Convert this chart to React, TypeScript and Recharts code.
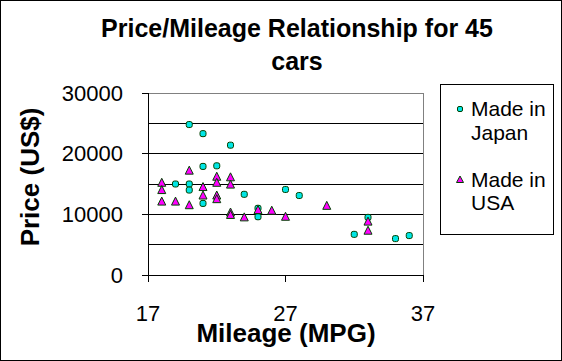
import { ScatterChart, Scatter, XAxis, YAxis, CartesianGrid, ReferenceLine, Label } from 'recharts';

const japanMpg = [20, 21, 23, 21, 22, 19, 20, 20, 21, 24, 25, 25, 27, 28, 32, 33, 35, 36];
const japanPrice = [24800, 23300, 21400, 17900, 18000, 15000, 15000, 14000, 11800, 13300, 11000, 9600, 14100, 13100, 6700, 9500, 6000, 6500];

const usaMpg = [18, 18, 18, 19, 20, 20, 21, 21, 22, 22, 22, 22, 23, 23, 23, 23, 24, 25, 26, 27, 30, 33, 33];
const usaPrice = [15200, 14000, 12100, 12100, 17200, 11500, 14500, 13100, 16200, 15200, 13100, 12500, 16100, 14900, 10300, 9900, 9500, 10700, 10600, 9600, 11400, 8800, 7300];

const xTicks = [17, 27, 37];
const yTicks = [0, 5000, 10000, 15000, 20000, 25000, 30000];

const japan = japanMpg.map((mpg, i) => ({ mpg, price: japanPrice[i] }));
const usa = usaMpg.map((mpg, i) => ({ mpg, price: usaPrice[i] }));

const FONT = '"Liberation Sans", Arial, sans-serif';
const CYAN = '#00e6e6';
const MAGENTA = '#ff00ff';
const EDGE = '#004000';
const crisp = { shapeRendering: 'crispEdges' as const };

const Dot = (props: any) => {
  const { cx, cy } = props;
  return <rect x={cx - 3} y={cy - 3} width={6} height={6} rx={2} fill={CYAN} stroke={EDGE} strokeWidth={1} />;
};

const Tri = (props: any) => {
  const { cx, cy } = props;
  return (
    <polygon
      points={`${cx},${cy - 4.5} ${cx + 4},${cy + 3.5} ${cx - 4},${cy + 3.5}`}
      fill={MAGENTA}
      stroke={EDGE}
      strokeWidth={1}
    />
  );
};

export default function App() {
  return (
    <div
      style={{
        position: 'absolute',
        left: 0,
        top: 0,
        width: 562,
        height: 361,
        background: '#fff',
        fontFamily: FONT,
        color: '#000',
      }}
    >
      <ScatterChart width={562} height={361} margin={{ top: 93, right: 139, bottom: 0, left: 0 }}>
        <CartesianGrid vertical={false} stroke="#000" strokeOpacity={1} {...crisp} />
        <ReferenceLine y={30000} stroke="#808080" {...crisp} />
        <ReferenceLine x={37} stroke="#808080" {...crisp} />
        <XAxis
          type="number"
          dataKey="mpg"
          domain={[17, 37]}
          ticks={xTicks}
          height={86}
          tickSize={7}
          tickMargin={23}
          axisLine={{ stroke: '#000', ...crisp }}
          tickLine={{ stroke: '#000', ...crisp }}
          tick={{ fill: '#000', fontSize: 22 }}
        >
          <Label
            content={() => (
              <text x={286} y={342} textAnchor="middle" fontWeight="bold" fontSize={26} fill="#000">
                Mileage (MPG)
              </text>
            )}
          />
        </XAxis>
        <YAxis
          type="number"
          dataKey="price"
          domain={[0, 30000]}
          ticks={yTicks}
          width={148}
          tickSize={6}
          tickMargin={19}
          axisLine={{ stroke: '#000', ...crisp }}
          tickLine={{ stroke: '#000', ...crisp }}
          tick={{ fill: '#000', fontSize: 22 }}
        >
          <Label
            content={() => (
              <text
                x={30}
                y={177}
                dy="0.35em"
                transform="rotate(-90 30 177)"
                textAnchor="middle"
                fontWeight="bold"
                fontSize={26}
                fill="#000"
              >
                Price (US$)
              </text>
            )}
          />
        </YAxis>
        <Scatter name="Made in Japan" data={japan} shape={Dot} isAnimationActive={false} />
        <Scatter name="Made in USA" data={usa} shape={Tri} isAnimationActive={false} />
      </ScatterChart>

      <svg
        width={562}
        height={361}
        style={{ position: 'absolute', left: 0, top: 0, pointerEvents: 'none' }}
        fontFamily={FONT}
      >
        <rect x={0.5} y={0.5} width={561} height={360} fill="none" stroke="#000" />
        <text x={297} y={37} textAnchor="middle" fontSize={25} fontWeight="bold">
          Price/Mileage Relationship for 45
        </text>
        <text x={297} y={70} textAnchor="middle" fontSize={25} fontWeight="bold">
          cars
        </text>

        <rect x={440.5} y={84.5} width={113} height={150} fill="#fff" stroke="#000" />
        <rect x={457.5} y={106.5} width={5} height={5} rx={1.5} fill={CYAN} stroke={EDGE} />
        <text x={471} y={109} dy="0.35em" fontSize={21}>Made in</text>
        <text x={471} y={133} dy="0.35em" fontSize={21}>Japan</text>
        <polygon points="460,176 463.5,182.5 456.5,182.5" fill={MAGENTA} stroke={EDGE} />
        <text x={471} y={180} dy="0.35em" fontSize={21}>Made in</text>
        <text x={471} y={203} dy="0.35em" fontSize={21}>USA</text>
      </svg>
    </div>
  );
}
